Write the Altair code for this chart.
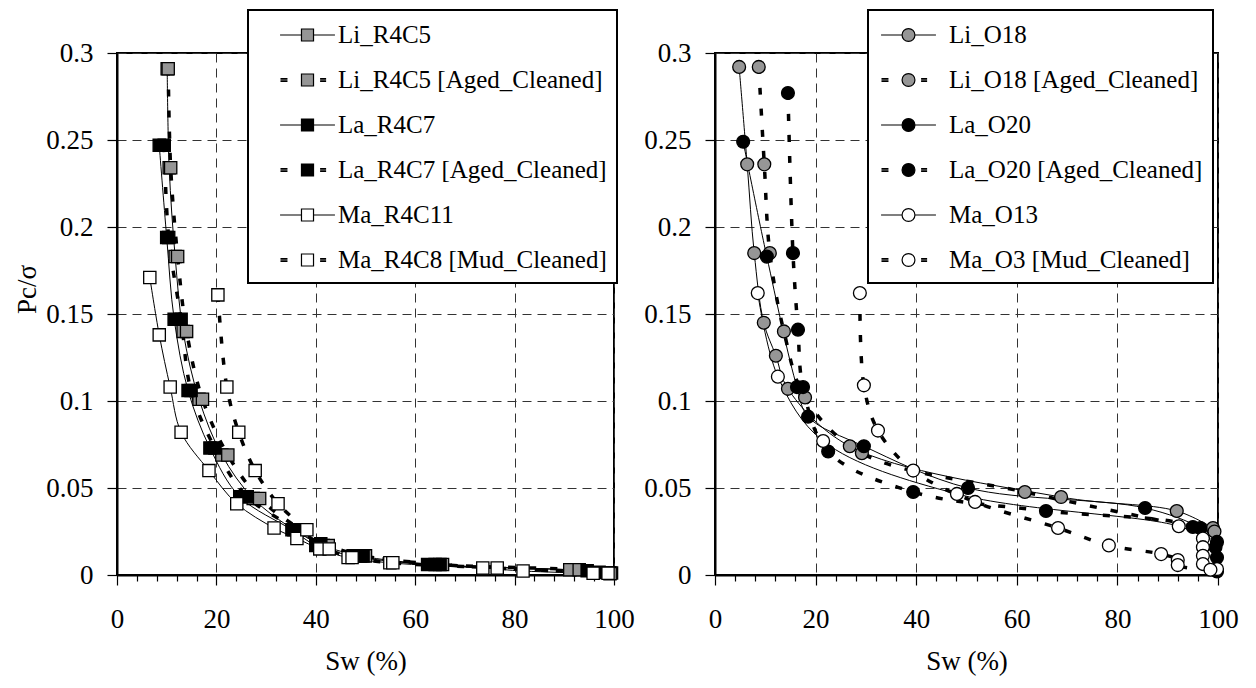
import altair as alt
import pandas as pd

FONT = "Liberation Serif"

# ---------------- Left panel (squares) ----------------
left_names = ["Li_R4C5", "Li_R4C5 [Aged_Cleaned]", "La_R4C7",
              "La_R4C7 [Aged_Cleaned]", "Ma_R4C11", "Ma_R4C8 [Mud_Cleaned]"]
left_fills = ["#969696", "#969696", "#000000", "#000000", "#ffffff", "#ffffff"]
left_dashed = [False, True, False, True, False, True]

li_r4c5_sw = [10.1, 10.5, 11.7, 13.3, 16.5, 21.1, 27.4, 35.6, 41.5, 49.0, 64.0, 91.1, 99.0]
li_r4c5_pc = [0.291, 0.234, 0.183, 0.140, 0.101, 0.069, 0.044, 0.026, 0.017, 0.011, 0.006, 0.003, 0.0012]
li_r4c5a_sw = [10.3, 10.8, 12.2, 14.0, 17.2, 22.3, 28.7, 37.0, 42.5, 50.0, 65.5, 93.0, 99.5]
li_r4c5a_pc = [0.291, 0.234, 0.183, 0.140, 0.101, 0.069, 0.044, 0.026, 0.017, 0.011, 0.006, 0.003, 0.0012]
la_r4c7_sw = [8.5, 10.0, 11.5, 14.3, 18.7, 24.7, 35.2, 40.0, 47.5, 62.5, 94.6, 99.2]
la_r4c7_pc = [0.247, 0.194, 0.147, 0.106, 0.073, 0.045, 0.026, 0.017, 0.011, 0.006, 0.0025, 0.001]
la_r4c7a_sw = [9.5, 10.4, 12.9, 14.9, 19.7, 26.2, 36.4, 41.0, 49.5, 65.0, 97.0]
la_r4c7a_pc = [0.247, 0.194, 0.147, 0.106, 0.073, 0.045, 0.026, 0.018, 0.011, 0.006, 0.0015]
ma_r4c11_sw = [6.6, 8.5, 10.7, 12.9, 18.5, 24.1, 31.6, 36.2, 40.8, 46.5, 54.9, 73.6, 81.7, 95.8, 99.2]
ma_r4c11_pc = [0.171, 0.138, 0.108, 0.082, 0.060, 0.041, 0.027, 0.021, 0.015, 0.010, 0.007, 0.004, 0.0023, 0.001, 0.0008]
ma_r4c8_sw = [20.3, 22.1, 24.5, 27.8, 32.4, 38.2, 42.7, 47.3, 55.5, 76.5, 98.8]
ma_r4c8_pc = [0.161, 0.108, 0.082, 0.060, 0.041, 0.026, 0.015, 0.010, 0.007, 0.004, 0.001]

left_sw = [li_r4c5_sw, li_r4c5a_sw, la_r4c7_sw, la_r4c7a_sw, ma_r4c11_sw, ma_r4c8_sw]
left_pc = [li_r4c5_pc, li_r4c5a_pc, la_r4c7_pc, la_r4c7a_pc, ma_r4c11_pc, ma_r4c8_pc]

# ---------------- Right panel (circles) ----------------
right_names = ["Li_O18", "Li_O18 [Aged_Cleaned]", "La_O20",
               "La_O20 [Aged_Cleaned]", "Ma_O13", "Ma_O3 [Mud_Cleaned]"]
right_fills = ["#969696", "#969696", "#000000", "#000000", "#ffffff", "#ffffff"]
right_dashed = [False, True, False, True, False, True]

li_o18_sw = [4.8, 6.4, 7.8, 9.7, 12.1, 14.5, 26.8, 68.8, 91.8, 99.0]
li_o18_pc = [0.292, 0.236, 0.185, 0.145, 0.126, 0.107, 0.074, 0.0448, 0.0368, 0.027]
li_o18a_sw = [8.7, 9.8, 10.9, 13.7, 17.9, 29.2, 61.6, 99.3]
li_o18a_pc = [0.292, 0.236, 0.185, 0.140, 0.102, 0.070, 0.0477, 0.025]
la_o20_sw = [5.6, 10.3, 16.3, 18.5, 29.6, 50.3, 85.5, 96.5, 99.8, 99.8, 99.8]
la_o20_pc = [0.249, 0.183, 0.108, 0.091, 0.074, 0.050, 0.0385, 0.027, 0.019, 0.010, 0.002]
la_o20a_sw = [14.5, 15.5, 16.5, 17.5, 22.5, 39.4, 65.8, 95.0, 99.5]
la_o20a_pc = [0.277, 0.185, 0.141, 0.108, 0.071, 0.0477, 0.0368, 0.0276, 0.016]
ma_o13_sw = [8.5, 12.5, 21.5, 48.1, 92.2, 97.0, 97.0, 97.0, 97.0, 99.8]
ma_o13_pc = [0.162, 0.114, 0.077, 0.0466, 0.028, 0.021, 0.016, 0.011, 0.0063, 0.0034]
ma_o3_sw = [28.8, 29.6, 32.4, 39.4, 51.7, 68.2, 78.3, 88.7, 92.0, 92.0, 98.5]
ma_o3_pc = [0.162, 0.109, 0.083, 0.060, 0.042, 0.027, 0.017, 0.012, 0.0086, 0.0057, 0.003]

right_sw = [li_o18_sw, li_o18a_sw, la_o20_sw, la_o20a_sw, ma_o13_sw, ma_o3_sw]
right_pc = [li_o18_pc, li_o18a_pc, la_o20_pc, la_o20a_pc, ma_o13_pc, ma_o3_pc]

x_ticks = list(range(0, 101, 4))
y_ticks = [0, 0.05, 0.1, 0.15, 0.2, 0.25, 0.3]

# legend glyphs (line + marker); symbol unit = sqrt(size)/2 = 14 px
DASHES = ("M-1.93,-0.1H-1.43M-1.93,0H-1.43M-1.93,0.1H-1.43"
          "M0.9,-0.1H1.33M0.9,0H1.33M0.9,0.1H1.33")
SOLID_SQ = "M-1.96,0H-0.43M0.43,0H1.96"
SOLID_CI = "M-1.96,0H-0.46M0.46,0H1.96"
SQUARE = "M-0.43,-0.43H0.43V0.43H-0.43Z"
CIRCLE = "M-0.46,0A0.46,0.46,0,1,1,0.46,0A0.46,0.46,0,1,1,-0.46,0Z"


def glyphs(marker, solid, dashed):
    return [(DASHES if d else solid) + marker for d in dashed]


def panel(names, fills, dashed, sws, pcs, shape, glyph_list, width, ytitle,
          lx, ly, sym_off, lab_off):
    rows = []
    for name, fc, d, sw, pc in zip(names, fills, dashed, sws, pcs):
        for i, (a, b) in enumerate(zip(sw, pc)):
            rows.append({"series": name, "Sw": a, "Pc": b, "idx": i,
                         "dashed": d, "fc": fc})
    df = pd.DataFrame(rows)
    base = alt.Chart(df)

    xaxis = alt.Axis(
        values=x_ticks,
        tickSize={"condition": {"test": "datum.value % 20 === 0", "value": 10}, "value": 6},
        gridOpacity={"condition": {"test": "datum.value % 20 === 0", "value": 1}, "value": 0},
        labelExpr="datum.value % 20 === 0 ? datum.label : ''",
        labelOverlap=False, labelFlush=False, labelPadding=21, titlePadding=16,
    )
    yargs = dict(values=y_ticks, format="~g", tickSize=10, labelPadding=14,
                 labelOverlap=False, labelFlush=False, titlePadding=4)
    if ytitle:
        yargs["titleY"] = 236
    yaxis = alt.Axis(**yargs)

    x = alt.X("Sw:Q", scale=alt.Scale(domain=[0, 100], nice=False, zero=False),
              axis=xaxis, title="Sw (%)")
    y = alt.Y("Pc:Q", scale=alt.Scale(domain=[0, 0.3], nice=False),
              axis=yaxis, title=ytitle if ytitle else None)

    solid = base.transform_filter("!datum.dashed").mark_line(
        color="black", strokeWidth=1, interpolate="catmull-rom"
    ).encode(x=x, y=y, detail="series:N", order="idx:Q")
    dash = base.transform_filter("datum.dashed").mark_line(
        color="black", strokeWidth=3.5, strokeDash=[7, 14], interpolate="catmull-rom"
    ).encode(x=x, y=y, detail="series:N", order="idx:Q")
    pts = base.mark_point(
        shape=shape, filled=True, size=165 if shape == "circle" else 150,
        stroke="black", strokeWidth=1.3, opacity=1
    ).encode(
        x=x, y=y,
        color=alt.Color("fc:N", scale=None),
    )
    leg = alt.Legend(
        title=None, orient="none", legendX=lx, legendY=ly,
        labelFont=FONT, labelFontSize=25, labelColor="black", labelLimit=500,
        labelOffset=lab_off, symbolSize=784, symbolOffset=sym_off,
        symbolStrokeWidth=1.2, symbolOpacity=1,
        rowPadding=17, padding=10,
        fillColor="white", strokeColor="black",
    )
    # invisible layer whose only job is to carry the combined line+marker legend
    legend_layer = base.mark_point(
        filled=False, opacity=0, strokeWidth=1.2
    ).encode(
        x=x, y=y,
        fill=alt.Fill("series:N", scale=alt.Scale(domain=names, range=fills), legend=leg),
        stroke=alt.Stroke("series:N", scale=alt.Scale(domain=names, range=["#000000"] * len(names)), legend=leg),
        shape=alt.Shape("series:N", scale=alt.Scale(domain=names, range=glyph_list), legend=leg),
    )
    return alt.layer(solid, dash, legend_layer, pts).properties(width=width, height=522)


left = panel(left_names, left_fills, left_dashed, left_sw, left_pc, "square",
             glyphs(SQUARE, SOLID_SQ, left_dashed), 497, "Pc/σ", 131, -43, 34.5, 15.5)
right = panel(right_names, right_fills, right_dashed, right_sw, right_pc, "circle",
              glyphs(CIRCLE, SOLID_CI, right_dashed), 503, None, 153, -43, 15.5, 25.5)

chart = alt.hconcat(left, right, spacing=6).resolve_scale(
    fill="independent", stroke="independent", shape="independent"
).properties(
    padding={"left": 4, "top": 0, "right": 5, "bottom": 5}
).configure(font=FONT).configure_view(
    stroke="black", strokeWidth=2
).configure_axis(
    domainColor="black", domainWidth=2, tickColor="black", tickWidth=1.2,
    labelFont=FONT, labelFontSize=27, labelColor="black",
    titleFont=FONT, titleFontSize=27, titleFontWeight="normal", titleColor="black",
    gridColor="#333333", gridDash=[9, 6], gridWidth=1,
).configure_legend(strokeWidth=2)

chart.save("out.html", embed_options={"renderer": "svg", "actions": False})
